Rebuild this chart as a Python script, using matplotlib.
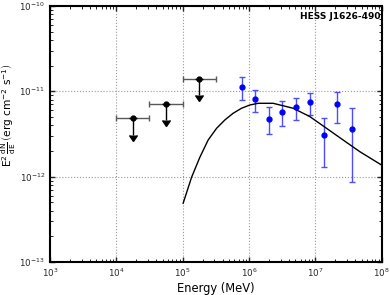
import numpy as np
import matplotlib.pyplot as plt

plt.rcParams['mathtext.default'] = 'regular'
plt.rcParams['xtick.direction'] = 'in'
plt.rcParams['ytick.direction'] = 'in'
plt.rcParams['xtick.top'] = True
plt.rcParams['ytick.right'] = True

# Fermi-LAT upper limits (MeV, erg cm-2 s-1)
ul_energy = [1.78e4, 5.62e4, 1.78e5]
ul_elo = [1.0e4, 3.16e4, 1.0e5]
ul_ehi = [3.16e4, 1.0e5, 3.16e5]
ul_flux = [4.8e-12, 7.1e-12, 1.41e-11]

# HESS spectral points
hess_energy = [7.7e5, 1.22e6, 1.99e6, 3.15e6, 5.07e6, 8.24e6, 1.34e7, 2.15e7, 3.50e7]
hess_flux = [1.13e-11, 8.13e-12, 4.78e-12, 5.77e-12, 6.49e-12, 7.50e-12, 3.05e-12, 7.05e-12, 3.59e-12]
hess_hi = [1.46e-11, 1.035e-11, 6.49e-12, 7.64e-12, 8.28e-12, 9.48e-12, 4.82e-12, 9.73e-12, 6.32e-12]
hess_lo = [7.9e-12, 5.77e-12, 3.13e-12, 3.92e-12, 4.61e-12, 5.27e-12, 1.29e-12, 4.29e-12, 8.6e-13]

# model curve
model_logE = [5.007, 5.134, 5.259, 5.384, 5.511, 5.636, 5.760, 5.887, 6.012, 6.137,
              6.363, 6.664, 6.916, 7.167, 7.417, 7.669, 7.995]
model_logF = [-12.312, -12.008, -11.773, -11.571, -11.434, -11.336, -11.258, -11.199,
              -11.161, -11.141, -11.141, -11.199, -11.297, -11.434, -11.571, -11.708, -11.864]

fig = plt.figure(figsize=(3.9, 2.95), dpi=100)
ax = fig.add_axes([0.128, 0.112, 0.851, 0.868])

ul_energy = np.array(ul_energy)
ul_flux = np.array(ul_flux)
xerr = [ul_energy - np.array(ul_elo), np.array(ul_ehi) - ul_energy]
ax.errorbar(ul_energy, ul_flux, xerr=xerr, fmt='none', ecolor='0.35', capsize=2, lw=1)
ax.errorbar(ul_energy, ul_flux, yerr=0.36 * ul_flux, uplims=True, fmt='o', color='k',
            ms=3.5, ecolor='k', lw=1, capsize=3)

hess_energy = np.array(hess_energy)
hess_flux = np.array(hess_flux)
yerr = [hess_flux - np.array(hess_lo), np.array(hess_hi) - hess_flux]
ax.errorbar(hess_energy, hess_flux, yerr=yerr, fmt='o', color='b', ms=3.5,
            ecolor=(0.3, 0.3, 1.0), capsize=2, lw=1)

ax.plot(10 ** np.array(model_logE), 10 ** np.array(model_logF), color='k', lw=1)

ax.set_xscale('log')
ax.set_yscale('log')
ax.set_xlim(1e3, 1e8)
ax.set_ylim(1e-13, 1e-10)
ax.grid(True, which='major', linestyle=':', color='0.6', lw=0.8)
ax.tick_params(labelsize=6.3, width=1, colors='0.15')
ax.tick_params(which='minor', length=2)
for s in ax.spines.values():
    s.set_linewidth(1.5)

ax.set_xlabel('Energy (MeV)', fontsize=8.3, labelpad=2)
ax.set_ylabel(r'$E^2\,\frac{dN}{dE}\,\left(erg\ cm^{-2}\ s^{-1}\right)$', fontsize=7.6)
ax.yaxis.set_label_coords(-0.097, 0.575)
ax.text(0.995, 0.975, 'HESS J1626-490', transform=ax.transAxes, ha='right', va='top',
        fontsize=6.5, fontweight='bold')

fig.savefig('out.png', dpi=100)
